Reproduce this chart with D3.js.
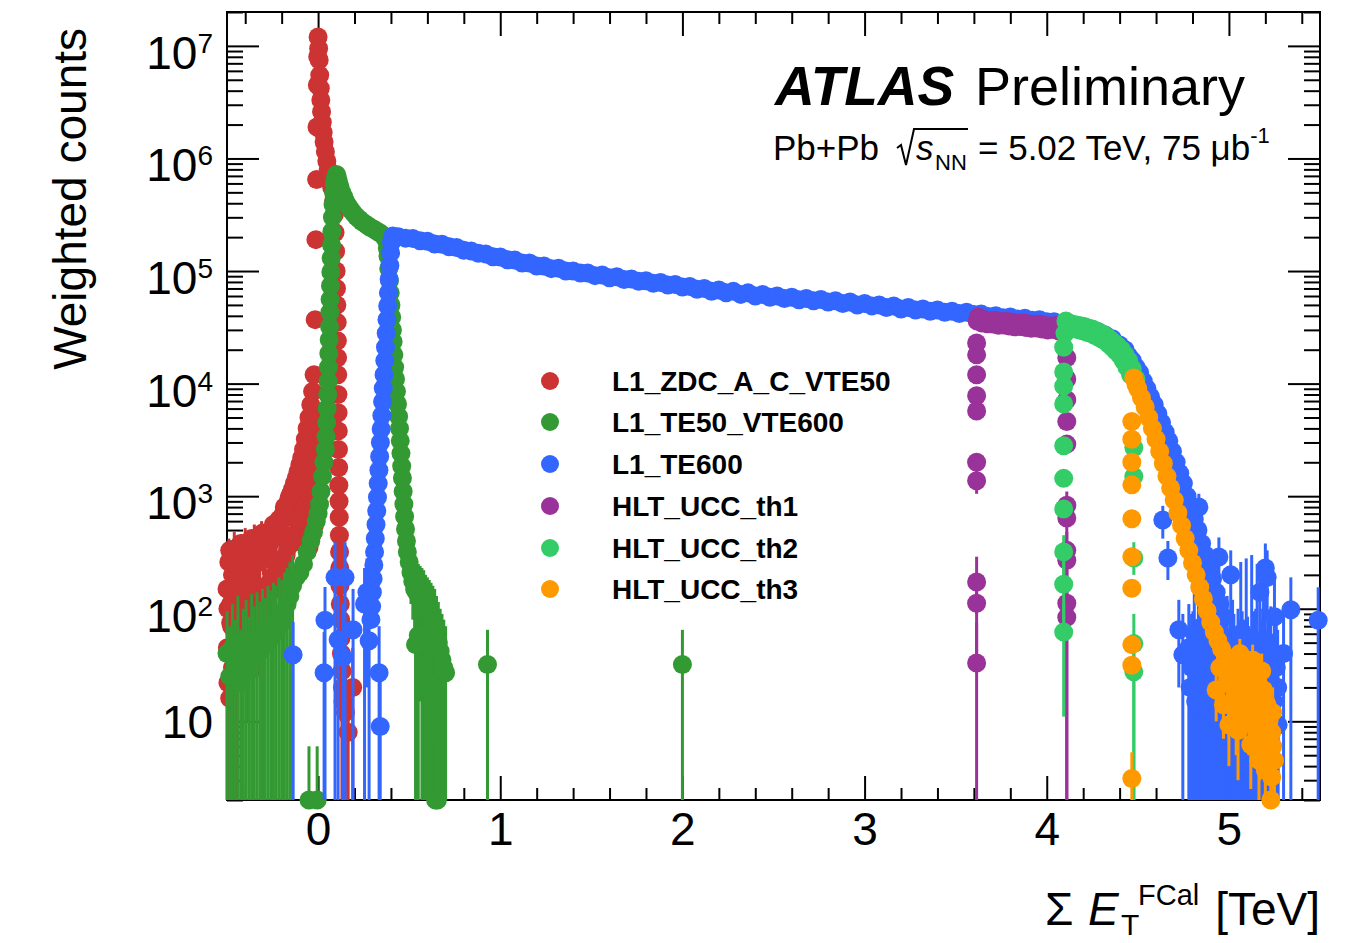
<!DOCTYPE html>
<html lang="en">
<head>
<meta charset="UTF-8">
<title>ATLAS FCal sum ET</title>
<script src="https://cdn.jsdelivr.net/npm/d3@7"></script>
<style>
  body { margin: 0; background: #fff; }
  text { font-family: "Liberation Sans", Arial, Helvetica, sans-serif; fill: #000; }
</style>
</head>
<body>
<svg id="chart" width="1367" height="943"></svg>
<script>
// ---- data: [sumET (TeV), weighted counts] and [x, y, errLow, errHigh] ----
const legendNames = ["L1_ZDC_A_C_VTE50", "L1_TE50_VTE600", "L1_TE600", "HLT_UCC_th1", "HLT_UCC_th2", "HLT_UCC_th3"];
const seriesColors = ["#cc3333", "#339933", "#3366ff", "#993399", "#33cc66", "#ff9900"];
const xTicks = [0, 1, 2, 3, 4, 5];
const yDecades = [1, 2, 3, 4, 5, 6, 7];

const redBand = [
  [-0.040, 6500], [-0.030, 8500], [-0.022, 12000], [-0.016, 37000], [-0.012, 190000], [-0.008, 650000],
  [-0.006, 1.9e6], [-0.004, 4.5e6], [-0.002, 8e6],
  [0.000, 1.2e7], [0.003, 9.5e6], [0.006, 7.5e6], [0.009, 5.5e6], [0.012, 4.2e6], [0.015, 3.3e6],
  [0.019, 2.6e6], [0.023, 2.1e6], [0.028, 1.7e6], [0.033, 1.4e6], [0.040, 1.15e6], [0.048, 9.5e5],
  [0.056, 8e5], [0.065, 6.8e5], [0.075, 5.5e5], [0.085, 4.2e5],
  [0.090, 3.2e5], [0.093, 2.2e5], [0.096, 1.5e5], [0.099, 1.0e5], [0.101, 7e4], [0.103, 5e4],
  [0.105, 3.5e4], [0.106, 2.4e4], [0.107, 1.7e4], [0.108, 1.2e4], [0.109, 8e3], [0.110, 5.5e3],
  [0.111, 3.8e3], [0.112, 2.6e3], [0.113, 1.8e3], [0.114, 1250], [0.115, 900], [0.116, 650],
  [0.117, 450], [0.118, 320], [0.119, 230], [0.120, 160],
  // body of the low-ET shoulder
  [-0.110, 1200], [-0.110, 700], [-0.110, 400], [-0.095, 1500], [-0.095, 900], [-0.095, 500],
  [-0.080, 2000], [-0.080, 1100], [-0.080, 650], [-0.080, 380], [-0.065, 2600], [-0.065, 1500],
  [-0.065, 850], [-0.065, 480], [-0.050, 3200], [-0.050, 1900], [-0.050, 1100], [-0.050, 600],
  [-0.050, 350], [-0.035, 4000], [-0.035, 2400], [-0.035, 1400], [-0.035, 800], [-0.035, 450],
  [-0.020, 5000], [-0.020, 3000], [-0.020, 1800], [-0.020, 1000], [-0.020, 550],
  [-0.008, 3500], [-0.008, 2000], [-0.008, 1100],
  [-0.495, 100], [-0.465, 120], [-0.435, 95], [-0.405, 130], [-0.375, 110], [-0.345, 140],
  [-0.315, 125], [-0.285, 160], [-0.255, 190], [-0.225, 230], [-0.195, 280], [-0.165, 350], [-0.135, 450],
  [-0.485, 330], [-0.455, 260], [-0.425, 380], [-0.395, 300], [-0.365, 420], [-0.335, 360],
  [-0.305, 470], [-0.275, 430], [-0.245, 560], [-0.215, 620], [-0.185, 800], [-0.155, 1000],
  [-0.480, 75], [-0.440, 70], [-0.400, 85], [-0.360, 90], [-0.320, 100], [-0.280, 120], [-0.240, 150]
];
const redErr = [
  [-0.500, 150, 60, 370], [-0.490, 260, 120, 420], [-0.480, 110, 40, 300], [-0.470, 200, 90, 380],
  [-0.460, 330, 170, 480], [-0.450, 180, 80, 340], [-0.440, 240, 110, 420], [-0.430, 150, 60, 330],
  [-0.420, 290, 140, 460], [-0.410, 210, 100, 380], [-0.400, 350, 190, 520], [-0.390, 230, 110, 400],
  [-0.380, 180, 80, 350], [-0.370, 300, 150, 470], [-0.360, 250, 120, 430], [-0.350, 390, 220, 560],
  [-0.340, 280, 140, 450], [-0.330, 330, 180, 500], [-0.320, 260, 130, 420], [-0.310, 420, 240, 600],
  [-0.300, 350, 200, 520], [-0.290, 310, 170, 480], [-0.280, 400, 230, 580], [-0.270, 370, 210, 540],
  [-0.260, 450, 270, 640], [-0.250, 420, 250, 600], [-0.240, 500, 310, 700], [-0.230, 460, 280, 650],
  [-0.220, 560, 360, 760], [-0.210, 530, 330, 730], [-0.200, 640, 420, 860], [-0.190, 700, 480, 920],
  [-0.180, 760, 530, 990], [-0.170, 850, 600, 1100], [-0.160, 950, 690, 1210], [-0.150, 1050, 780, 1320],
  [-0.140, 1150, 870, 1430], [-0.130, 1300, 1000, 1600], [-0.120, 1450, 1130, 1770], [-0.110, 1650, 1310, 1990],
  [-0.100, 1900, 1530, 2270], [-0.090, 2200, 1800, 2600], [-0.080, 2600, 2150, 3050], [-0.070, 3200, 2700, 3700],
  [-0.060, 4000, 3450, 4550], [-0.050, 5000, 4400, 5600],
  [-0.498, 45, 0, 110], [-0.475, 70, 20, 150], [-0.445, 55, 0, 120], [-0.415, 90, 30, 170],
  [-0.385, 65, 10, 140], [-0.355, 100, 40, 190], [-0.325, 80, 25, 160], [-0.295, 120, 50, 220],
  [-0.265, 140, 60, 250], [-0.235, 170, 80, 290], [-0.205, 220, 110, 350], [-0.175, 300, 160, 450],
  [-0.145, 420, 250, 600], [-0.115, 600, 380, 820],
  [-0.495, 22, 0, 60], [-0.485, 16, 0, 45], [-0.470, 30, 0, 70], [-0.455, 60, 0, 140],
  [0.122, 110, 60, 170], [0.124, 80, 35, 130], [0.126, 55, 20, 95], [0.128, 40, 10, 75],
  [0.131, 28, 0, 55], [0.134, 20, 0, 45], [0.137, 15, 0, 38], [0.150, 12, 0, 30],
  [0.165, 8, 0, 22], [0.190, 20, 0, 45]
];

const greenBand = [
  [-0.120, 190], [-0.100, 210], [-0.080, 250], [-0.060, 320], [-0.040, 400], [-0.025, 480], [-0.010, 600],
  [0.000, 700], [0.008, 850], [0.016, 1100], [0.024, 1500], [0.032, 2000], [0.040, 2600], [0.044, 3400],
  [0.047, 4500], [0.050, 6000], [0.053, 8000], [0.055, 10500], [0.057, 14000], [0.059, 18500],
  [0.061, 24500], [0.063, 32000], [0.065, 43000], [0.066, 56000], [0.068, 74000], [0.070, 98000],
  [0.072, 1.3e5], [0.074, 1.7e5], [0.076, 2.25e5], [0.079, 3.0e5], [0.082, 3.9e5], [0.086, 4.9e5],
  [0.090, 5.9e5], [0.095, 6.7e5], [0.101, 7.2e5],
  [0.105, 6.8e5], [0.112, 6.2e5], [0.120, 5.6e5], [0.130, 5.0e5], [0.140, 4.6e5], [0.150, 4.2e5],
  [0.165, 3.8e5], [0.180, 3.5e5], [0.195, 3.25e5], [0.210, 3.05e5], [0.225, 2.9e5], [0.240, 2.75e5],
  [0.255, 2.65e5], [0.270, 2.55e5], [0.285, 2.45e5], [0.300, 2.38e5], [0.315, 2.3e5], [0.330, 2.22e5],
  [0.345, 2.15e5], [0.360, 2.05e5], [0.372, 1.9e5], [0.380, 1.6e5],
  [0.384, 1.35e5], [0.388, 1.05e5], [0.392, 8.2e4], [0.396, 6.4e4], [0.400, 5e4], [0.404, 3.9e4],
  [0.408, 3.0e4], [0.412, 2.35e4], [0.416, 1.8e4], [0.420, 1.4e4], [0.425, 1.1e4], [0.430, 8500],
  [0.436, 6600], [0.442, 5100], [0.447, 4000], [0.451, 3100], [0.455, 2400], [0.459, 1850],
  [0.463, 1450], [0.467, 1100], [0.471, 850], [0.475, 660], [0.480, 510], [0.485, 400]
];
const greenErr = [
  [-0.500, 40, 0, 95], [-0.485, 25, 0, 70], [-0.470, 45, 0, 110], [-0.455, 30, 0, 80],
  [-0.440, 50, 0, 130], [-0.425, 22, 0, 65], [-0.410, 35, 0, 100], [-0.395, 45, 0, 120],
  [-0.380, 28, 0, 85], [-0.365, 50, 0, 135], [-0.350, 38, 0, 105], [-0.335, 55, 0, 140],
  [-0.320, 42, 0, 115], [-0.305, 60, 0, 150], [-0.290, 48, 0, 125], [-0.275, 65, 0, 160],
  [-0.260, 55, 0, 145], [-0.245, 70, 0, 170], [-0.230, 62, 0, 160], [-0.215, 80, 0, 190],
  [-0.200, 75, 0, 180], [-0.185, 95, 0, 210], [-0.170, 110, 0, 230], [-0.155, 130, 0, 260],
  [-0.140, 160, 0, 300], [-0.050, 2, 0, 6], [-0.005, 2, 0, 6],
  [0.490, 320, 200, 450], [0.500, 260, 150, 380], [0.510, 210, 110, 320], [0.520, 175, 80, 280],
  [0.530, 150, 60, 250], [0.540, 140, 40, 260], [0.550, 135, 30, 250], [0.560, 125, 15, 240],
  [0.570, 118, 0, 230], [0.580, 110, 0, 220], [0.590, 102, 0, 200], [0.600, 95, 0, 190],
  [0.610, 90, 0, 180], [0.620, 84, 0, 170], [0.630, 78, 0, 160], [0.640, 70, 0, 150],
  [0.650, 60, 0, 130], [0.660, 50, 0, 115], [0.670, 42, 0, 100], [0.680, 35, 0, 90],
  [0.690, 30, 0, 80], [0.700, 27, 0, 70],
  [0.535, 48, 0, 110], [0.550, 58, 0, 130], [0.585, 32, 0, 80], [0.600, 22, 0, 65],
  [0.620, 18, 0, 55], [0.645, 2, 0, 6], [0.655, 2, 0, 6],
  [0.930, 32, 0, 65], [2.000, 32, 0, 65]
];

const blueBand = [
  [0.290, 80], [0.294, 105], [0.298, 140], [0.302, 185], [0.306, 245], [0.310, 320], [0.314, 420],
  [0.318, 560], [0.322, 740], [0.326, 980], [0.330, 1300], [0.334, 1700], [0.338, 2250], [0.342, 3000],
  [0.346, 3950], [0.350, 5200], [0.354, 6900], [0.358, 9100], [0.362, 12000], [0.366, 16000],
  [0.370, 21000], [0.374, 28000], [0.378, 37000], [0.382, 49000], [0.386, 64000], [0.390, 85000],
  [0.394, 1.12e5], [0.398, 1.45e5], [0.403, 1.8e5], [0.410, 2.05e5],
  [0.44, 2.02e5], [0.48, 1.96e5], [0.52, 1.95e5], [0.56, 1.86e5], [0.60, 1.84e5], [0.64, 1.74e5],
  [0.68, 1.73e5], [0.72, 1.64e5], [0.76, 1.62e5], [0.80, 1.53e5], [0.84, 1.51e5], [0.88, 1.44e5],
  [0.92, 1.42e5], [0.96, 1.34e5], [1.00, 1.33e5], [1.04, 1.26e5], [1.08, 1.25e5], [1.12, 1.18e5],
  [1.16, 1.18e5], [1.20, 1.11e5], [1.24, 1.11e5], [1.28, 1.05e5], [1.32, 1.06e5], [1.36, 1.00e5],
  [1.40, 1.00e5], [1.44, 9.6e4], [1.48, 9.6e4], [1.52, 9.1e4], [1.56, 9.2e4], [1.60, 8.7e4],
  [1.64, 8.9e4], [1.68, 8.4e4], [1.72, 8.5e4], [1.76, 8.1e4], [1.80, 8.2e4], [1.84, 7.8e4],
  [1.88, 7.9e4], [1.92, 7.5e4], [1.96, 7.6e4], [2.00, 7.2e4], [2.04, 7.3e4], [2.08, 6.9e4],
  [2.12, 7.0e4], [2.16, 6.6e4], [2.20, 6.8e4], [2.24, 6.4e4], [2.28, 6.6e4], [2.32, 6.2e4],
  [2.36, 6.4e4], [2.40, 6.0e4], [2.44, 6.2e4], [2.48, 5.85e4], [2.52, 6.0e4], [2.56, 5.7e4],
  [2.60, 5.85e4], [2.64, 5.55e4], [2.68, 5.7e4], [2.72, 5.45e4], [2.76, 5.6e4], [2.80, 5.3e4],
  [2.84, 5.45e4], [2.88, 5.15e4], [2.92, 5.3e4], [2.96, 5.0e4], [3.00, 5.15e4], [3.04, 4.9e4],
  [3.08, 5.0e4], [3.12, 4.75e4], [3.16, 4.9e4], [3.20, 4.6e4], [3.24, 4.75e4], [3.28, 4.5e4],
  [3.32, 4.6e4], [3.36, 4.4e4], [3.40, 4.5e4], [3.44, 4.3e4], [3.48, 4.4e4], [3.52, 4.2e4],
  [3.56, 4.3e4], [3.60, 4.1e4], [3.64, 4.15e4], [3.68, 3.95e4], [3.72, 4.0e4], [3.76, 3.85e4],
  [3.80, 3.9e4], [3.84, 3.75e4], [3.88, 3.8e4], [3.92, 3.65e4], [3.96, 3.7e4], [4.00, 3.55e4],
  [4.04, 3.55e4], [4.08, 3.4e4], [4.12, 3.4e4], [4.16, 3.25e4], [4.20, 3.2e4], [4.24, 3.0e4],
  [4.28, 2.9e4], [4.32, 2.7e4], [4.36, 2.5e4],
  [4.40, 2.2e4], [4.42, 1.9e4], [4.44, 1.65e4], [4.46, 1.45e4], [4.48, 1.25e4], [4.50, 1.08e4],
  [4.52, 9200], [4.54, 7800], [4.56, 6600], [4.58, 5500], [4.60, 4500], [4.62, 3700], [4.64, 3000],
  [4.66, 2400], [4.68, 1900], [4.70, 1500], [4.72, 1150], [4.74, 880], [4.76, 680], [4.78, 520],
  [4.80, 400], [4.82, 300], [4.84, 230], [4.86, 175], [4.88, 130], [4.90, 98], [4.92, 74],
  [4.94, 56], [4.96, 42], [4.98, 32], [5.00, 25], [5.02, 19], [5.04, 15],
  // upper edge of the falling tail
  [4.43, 2.0e4], [4.45, 1.75e4], [4.47, 1.6e4], [4.49, 1.4e4], [4.51, 1.25e4], [4.53, 1.05e4],
  [4.55, 9000], [4.57, 7600], [4.59, 6500], [4.61, 5400], [4.63, 4500], [4.65, 3700], [4.67, 3100],
  [4.69, 2500], [4.71, 2000], [4.73, 1600], [4.75, 1300], [4.77, 1000], [4.79, 800], [4.81, 620],
  [4.83, 500], [4.85, 380], [4.87, 300], [4.89, 230], [4.91, 185], [4.93, 140], [4.95, 110], [4.97, 85]
];
const blueErr = [
  [-0.137, 39, 0, 76], [0.033, 27, 0, 62], [0.038, 79, 0, 156], [0.093, 190, 0, 390],
  [0.110, 53, 0, 130], [0.137, 37, 0, 110], [0.148, 190, 0, 390], [0.192, 65, 0, 150],
  [0.255, 110, 0, 230], [0.268, 140, 20, 280], [0.280, 52, 0, 120], [0.335, 27, 0, 70], [0.341, 9, 0, 25],
  [4.637, 614, 420, 820], [4.665, 282, 180, 400], [4.725, 65, 20, 120], [4.747, 39, 0, 90],
  [4.835, 800, 560, 1050], [4.945, 288, 150, 430], [5.010, 200, 90, 330], [5.200, 230, 100, 380],
  [5.210, 190, 80, 330], [5.340, 98, 0, 190], [5.490, 79, 0, 155], [5.300, 40, 0, 100],
  [5.270, 9.3, 0, 25], [5.190, 53, 0, 120], [5.250, 85, 25, 180], [5.170, 140, 40, 260],
  [4.780, 45, 0, 110], [4.795, 30, 0, 90], [4.810, 60, 0, 140], [4.825, 25, 0, 80],
  [4.840, 40, 0, 100], [4.855, 70, 0, 150], [4.870, 35, 0, 95], [4.885, 20, 0, 70],
  [4.900, 50, 0, 120], [4.915, 28, 0, 85], [4.930, 65, 0, 150], [4.945, 18, 0, 60],
  [4.960, 42, 0, 110], [4.975, 30, 0, 90], [4.990, 55, 0, 130], [5.005, 22, 0, 75],
  [5.020, 48, 0, 120], [5.035, 15, 0, 55], [5.050, 38, 0, 100], [5.065, 60, 0, 260],
  [5.080, 25, 0, 80], [5.095, 45, 0, 280], [5.110, 20, 0, 70], [5.125, 55, 0, 300],
  [5.140, 30, 0, 95], [5.155, 40, 0, 250], [5.170, 18, 0, 60], [5.185, 35, 0, 100],
  [5.200, 50, 0, 130], [5.215, 25, 0, 85], [5.230, 40, 0, 105], [5.245, 15, 0, 55], [5.260, 30, 0, 90],
  [4.7875, 20, 0, 70], [4.8025, 35, 0, 95], [4.8175, 15, 0, 55], [4.8325, 45, 0, 110],
  [4.8475, 22, 0, 75], [4.8625, 30, 0, 90], [4.8775, 12, 0, 45], [4.8925, 38, 0, 100],
  [4.9075, 20, 0, 70], [4.9225, 32, 0, 90], [4.9375, 14, 0, 50], [4.9525, 28, 0, 85],
  [4.9675, 18, 0, 65], [4.9825, 36, 0, 100], [4.9975, 12, 0, 45], [5.0125, 26, 0, 80],
  [5.0275, 30, 0, 90], [5.0425, 10, 0, 40], [5.0575, 24, 0, 80], [5.0725, 34, 0, 95],
  [5.0875, 16, 0, 60], [5.1025, 28, 0, 85], [5.1175, 12, 0, 45], [5.1325, 22, 0, 75],
  [5.1475, 36, 0, 100], [5.1625, 14, 0, 50], [5.1775, 25, 0, 80], [5.1925, 20, 0, 70],
  [5.2075, 11, 0, 40], [5.2225, 30, 0, 90], [5.2375, 18, 0, 60], [5.2525, 9, 0, 35], [5.2675, 20, 0, 65]
];

const purpleBand = [
  [3.618, 3.6e4], [3.630, 3.75e4], [3.660, 3.7e4], [3.690, 3.62e4], [3.720, 3.65e4], [3.750, 3.55e4],
  [3.780, 3.58e4], [3.810, 3.5e4], [3.840, 3.45e4], [3.870, 3.48e4], [3.900, 3.4e4], [3.930, 3.35e4],
  [3.960, 3.38e4], [3.990, 3.3e4], [4.020, 3.25e4], [4.050, 3.28e4], [4.080, 3.2e4], [4.100, 3.15e4],
  [3.625, 3.9e4], [3.645, 3.45e4], [3.675, 3.4e4], [3.705, 3.38e4], [3.735, 3.3e4], [3.765, 3.32e4],
  [3.795, 3.25e4], [3.825, 3.2e4], [3.855, 3.22e4], [3.885, 3.15e4], [3.915, 3.1e4], [3.945, 3.12e4],
  [3.975, 3.05e4], [4.005, 3.0e4], [4.035, 3.02e4], [4.065, 2.95e4]
];
const purpleErr = [
  [3.615, 23000, 23000, 23000], [3.615, 18000, 18000, 18000], [3.615, 12000, 12000, 12000],
  [3.615, 7800, 7800, 7800], [3.615, 5700, 5700, 5700], [3.615, 2000, 2000, 2000],
  [3.615, 1370, 1050, 2000], [3.615, 173, 90, 290], [3.615, 112, 40, 200], [3.615, 33, 0, 75],
  [4.110, 17000, 17000, 17000], [4.110, 11000, 11000, 11000], [4.110, 7200, 7200, 7200],
  [4.110, 4600, 4600, 4600], [4.110, 2900, 2900, 2900], [4.110, 830, 600, 1100],
  [4.110, 640, 420, 880], [4.110, 330, 180, 480], [4.110, 270, 120, 420],
  [4.110, 112, 0, 220], [4.110, 84, 0, 180]
];

const tealBand = [
  [4.11, 3.45e4], [4.13, 3.4e4], [4.15, 3.35e4], [4.17, 3.3e4], [4.19, 3.25e4], [4.21, 3.2e4],
  [4.23, 3.1e4], [4.25, 3.05e4], [4.27, 2.95e4], [4.29, 2.85e4], [4.31, 2.75e4], [4.33, 2.6e4],
  [4.35, 2.45e4], [4.37, 2.3e4], [4.39, 2.15e4], [4.41, 2.0e4], [4.43, 1.8e4], [4.45, 1.6e4],
  [4.47, 1.35e4], [4.49, 1.1e4],
  [4.105, 3.6e4], [4.10, 2.8e4], [4.12, 3.15e4], [4.14, 3.1e4], [4.16, 3.05e4], [4.18, 3.0e4],
  [4.20, 2.95e4], [4.22, 2.85e4], [4.24, 2.8e4], [4.26, 2.7e4], [4.28, 2.6e4], [4.30, 2.5e4],
  [4.32, 2.4e4], [4.34, 2.25e4], [4.36, 2.1e4], [4.38, 1.95e4], [4.40, 1.8e4], [4.42, 1.6e4],
  [4.44, 1.4e4], [4.46, 1.2e4]
];
const tealErr = [
  [4.093, 21000, 21000, 21000], [4.093, 12700, 12700, 12700], [4.093, 9500, 9500, 9500],
  [4.093, 6600, 6600, 6600], [4.093, 2800, 2800, 2800], [4.093, 1440, 1440, 1440],
  [4.093, 770, 770, 770], [4.093, 320, 200, 450], [4.093, 165, 60, 300], [4.093, 62, 11, 110],
  [4.478, 2700, 2700, 2700], [4.478, 1500, 1500, 1500], [4.478, 282, 200, 390],
  [4.478, 49, 0, 90], [4.478, 27.5, 0, 60]
];

const orangeBand = [
  [4.478, 1.12e4], [4.49, 9800], [4.50, 9000], [4.52, 7500], [4.54, 6200], [4.56, 5000], [4.58, 4000],
  [4.60, 3200], [4.62, 2500], [4.64, 1950], [4.66, 1500], [4.68, 1180], [4.70, 920], [4.72, 710],
  [4.74, 550], [4.76, 420], [4.78, 330], [4.80, 255], [4.82, 200], [4.84, 155], [4.86, 122],
  [4.88, 96], [4.90, 76], [4.92, 62], [4.94, 52], [4.96, 44], [4.98, 38], [5.00, 33], [5.02, 29],
  [5.04, 26], [5.06, 23], [5.08, 21], [5.10, 19], [5.12, 17], [5.14, 15], [5.16, 13], [5.18, 10.5],
  [5.20, 8.5], [5.22, 6], [5.23, 4.5], [5.235, 3.2]
];
const orangeErr = [
  [4.467, 4600, 4600, 4600], [4.467, 3200, 3200, 3200], [4.467, 2000, 2000, 2000],
  [4.467, 1260, 1260, 1260], [4.467, 630, 630, 630], [4.467, 290, 290, 290],
  [4.467, 152, 152, 152], [4.467, 48, 48, 48], [4.467, 31.5, 31.5, 31.5], [4.467, 3.1, 0, 5.3],
  [5.02, 15, 8, 24], [5.05, 8.3, 3, 14], [5.09, 12.6, 6, 20], [5.12, 6.2, 2.5, 11],
  [5.15, 23, 13, 34], [5.165, 4.5, 2, 8], [5.19, 19, 10, 28], [5.20, 3.7, 0, 7],
  [5.22, 10, 4, 17], [5.24, 6, 2, 11], [4.97, 14, 7, 22], [5.00, 9.3, 4, 15],
  [4.93, 19, 10, 29], [5.23, 2.0, 0, 3.5], [5.10, 30, 20, 42], [5.06, 40, 28, 54],
  [5.18, 28, 18, 40], [5.13, 35, 22, 48],
  [5.03, 20, 12, 30], [5.07, 16, 9, 25], [5.11, 11, 5, 18], [5.14, 9, 4, 15],
  [5.16, 22, 13, 32], [5.17, 7, 3, 12], [5.21, 14, 7, 22], [5.235, 8, 3, 14],
  [5.25, 4.5, 1.5, 9], [5.04, 11, 5, 18], [4.99, 22, 14, 32], [4.95, 30, 20, 42],
  [5.08, 33, 22, 46], [5.12, 24, 14, 35], [5.20, 15, 7, 24], [5.24, 12, 5, 20]
];

const series = [
  { band: redBand, err: redErr },
  { band: greenBand, err: greenErr },
  { band: blueBand, err: blueErr },
  { band: purpleBand, err: purpleErr },
  { band: tealBand, err: tealErr },
  { band: orangeBand, err: orangeErr }
].map((s, i) => ({ ...s, name: legendNames[i], color: seriesColors[i] }));

// ---- layout ----
const svg = d3.select("#chart");
const frameL = 227, frameR = 1320, frameT = 12, frameB = 800;
const yMin = 2, yMax = 2e7;
const x = d3.scaleLinear().domain([-0.5, 5.5]).range([frameL, frameR]);
const y = d3.scaleLog().domain([yMin, yMax]).range([frameB, frameT]);
const markerR = 9.5;

// ---- axes (ticks inward, ROOT style) ----
const xMinor = d3.range(-2, 28).map(i => +(i * 0.2).toFixed(1)).filter(v => !Number.isInteger(v));
const yMajor = yDecades.map(k => Math.pow(10, k));
const yMinor = [];
for (let k = 0; k <= 7; k++) {
  for (let m = 2; m <= 9; m++) {
    const v = m * Math.pow(10, k);
    if (v >= yMin && v <= yMax) yMinor.push(v);
  }
}

function styleAxis(g) {
  g.select(".domain").remove();
  g.selectAll(".tick line").attr("stroke", "#000").attr("stroke-width", 2);
}

svg.append("g").attr("transform", `translate(0,${frameB})`)
  .call(d3.axisBottom(x).tickValues(xMinor).tickSize(-12).tickFormat(""))
  .call(styleAxis);
const xAxis = svg.append("g").attr("transform", `translate(0,${frameB})`)
  .call(d3.axisBottom(x).tickValues(xTicks).tickSizeInner(-24).tickSizeOuter(0).tickPadding(12).tickFormat(d3.format("d")))
  .call(styleAxis);
xAxis.selectAll("text").attr("font-size", 46).attr("font-family", "Liberation Sans, Arial, sans-serif").attr("fill", "#000");

svg.append("g").attr("transform", `translate(0,${frameT})`)
  .call(d3.axisTop(x).tickValues(xMinor).tickSize(-12).tickFormat(""))
  .call(styleAxis);
svg.append("g").attr("transform", `translate(0,${frameT})`)
  .call(d3.axisTop(x).tickValues(xTicks).tickSize(-24).tickFormat(""))
  .call(styleAxis);

svg.append("g").attr("transform", `translate(${frameL},0)`)
  .call(d3.axisLeft(y).tickValues(yMinor).tickSize(-16).tickFormat(""))
  .call(styleAxis);
svg.append("g").attr("transform", `translate(${frameL},0)`)
  .call(d3.axisLeft(y).tickValues(yMajor).tickSize(-32).tickFormat(""))
  .call(styleAxis);
svg.append("g").attr("transform", `translate(${frameR},0)`)
  .call(d3.axisRight(y).tickValues(yMinor).tickSize(-16).tickFormat(""))
  .call(styleAxis);
svg.append("g").attr("transform", `translate(${frameR},0)`)
  .call(d3.axisRight(y).tickValues(yMajor).tickSize(-32).tickFormat(""))
  .call(styleAxis);

// y tick labels: 10, 10^2 ... 10^7
const yLab = svg.append("g").selectAll("text").data(yDecades).join("text")
  .attr("x", 213)
  .attr("y", k => y(Math.pow(10, k)) + (k > 1 ? 23 : 17))
  .attr("text-anchor", "end")
  .attr("font-size", 46)
  .text("10");
yLab.filter(k => k > 1).append("tspan")
  .attr("dy", -16).attr("font-size", 28)
  .text(k => k);

// frame
svg.append("rect")
  .attr("x", frameL).attr("y", frameT)
  .attr("width", frameR - frameL).attr("height", frameB - frameT)
  .attr("fill", "none").attr("stroke", "#000").attr("stroke-width", 2);

// ---- data: error bars then markers, per series ----
const clampY = v => Math.min(Math.max(v, yMin), yMax);
series.forEach(s => {
  const g = svg.append("g");
  g.selectAll("line").data(s.err.filter(d => d[3] > d[2])).join("line")
    .attr("x1", d => x(d[0])).attr("x2", d => x(d[0]))
    .attr("y1", d => y(clampY(d[2]))).attr("y2", d => y(clampY(d[3])))
    .attr("stroke", s.color).attr("stroke-width", 3);
  const pts = s.band.concat(s.err.map(d => [d[0], d[1]])).filter(d => d[1] >= yMin);
  g.selectAll("circle").data(pts).join("circle")
    .attr("cx", d => x(d[0])).attr("cy", d => y(d[1]))
    .attr("r", markerR).attr("fill", s.color);
});

// ---- legend ----
const legendY = [381, 422, 464, 506, 548, 589];
const leg = svg.append("g").selectAll("g").data(series).join("g")
  .attr("transform", (d, i) => `translate(0,${legendY[i]})`);
leg.append("circle").attr("cx", 550).attr("cy", 0).attr("r", 9).attr("fill", d => d.color);
leg.append("text").attr("x", 612).attr("y", 10)
  .attr("font-size", 28).attr("font-weight", "bold")
  .text(d => d.name);

// ---- titles ----
svg.append("text")
  .attr("transform", "translate(86,28) rotate(-90)")
  .attr("text-anchor", "end").attr("font-size", 46)
  .text("Weighted counts");

svg.append("text").attr("x", 1045).attr("y", 925).attr("font-size", 46).text("\u03A3");
svg.append("text").attr("x", 1088).attr("y", 925).attr("font-size", 46).attr("font-style", "italic").text("E");
svg.append("text").attr("x", 1121).attr("y", 935).attr("font-size", 30).text("T");
svg.append("text").attr("x", 1138).attr("y", 905).attr("font-size", 29).text("FCal");
svg.append("text").attr("x", 1320).attr("y", 925).attr("font-size", 46).attr("text-anchor", "end").text("[TeV]");

svg.append("text").attr("x", 775).attr("y", 105).attr("font-size", 55)
  .attr("font-weight", "bold").attr("font-style", "italic").text("ATLAS");
svg.append("text").attr("x", 975).attr("y", 105).attr("font-size", 54).text("Preliminary");

svg.append("text").attr("x", 773).attr("y", 160).attr("font-size", 35).text("Pb+Pb");
svg.append("path").attr("d", "M897,148 L901,145 L906,165 L914,129 L968,129")
  .attr("fill", "none").attr("stroke", "#000").attr("stroke-width", 2);
svg.append("text").attr("x", 916).attr("y", 160).attr("font-size", 35).attr("font-style", "italic").text("s");
svg.append("text").attr("x", 935).attr("y", 170).attr("font-size", 22).text("NN");
const energy = svg.append("text").attr("x", 978).attr("y", 160).attr("font-size", 35)
  .text("= 5.02 TeV, 75 \u03BCb");
energy.append("tspan").attr("dy", -17).attr("font-size", 22).text("-1");
</script>
</body>
</html>
